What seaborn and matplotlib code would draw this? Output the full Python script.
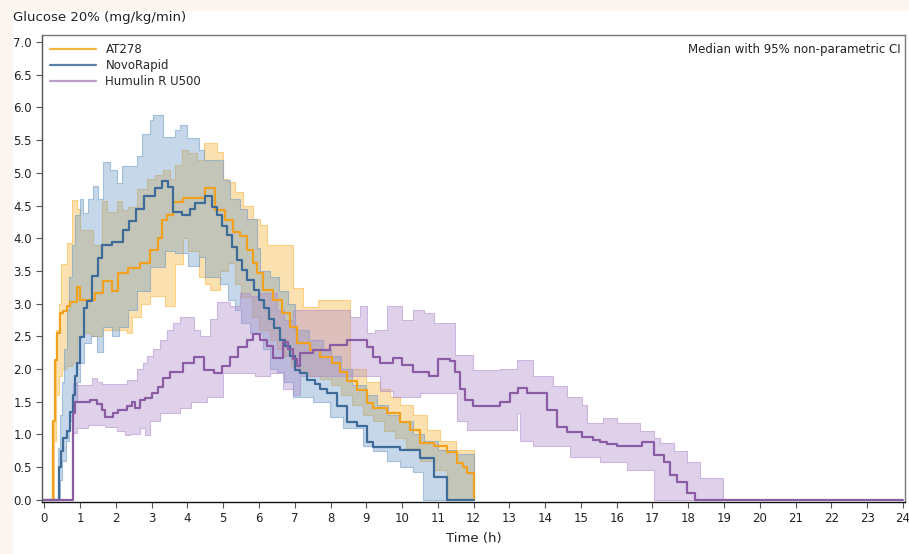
import numpy as np
import pandas as pd
import matplotlib
matplotlib.use("Agg")
import matplotlib.pyplot as plt
from matplotlib.lines import Line2D
from matplotlib.patches import Rectangle
import seaborn as sns

# ---- median glucose infusion rate (step functions, start of each step) ----
at_t = [0.00, 0.25, 0.30, 0.35, 0.44, 0.53, 0.63, 0.72, 0.91, 1.00, 1.42, 1.65, 1.88, 2.07, 2.35,
        2.68, 2.95, 3.19, 3.28, 3.42, 3.61, 3.89, 4.49, 4.77, 5.05, 5.28, 5.47, 5.66, 5.84, 5.94,
        6.10, 6.40, 6.65, 6.87, 7.06, 7.43, 7.71, 8.03, 8.27, 8.45, 8.73, 9.01, 9.20, 9.57, 9.94,
        10.22, 10.50, 10.88, 11.25, 11.53, 11.71, 11.81, 12.01]
at_med = [0.00, 1.20, 2.14, 2.55, 2.86, 2.88, 2.97, 3.03, 3.26, 3.06, 3.16, 3.34, 3.20, 3.47, 3.55,
          3.62, 3.82, 4.00, 4.28, 4.36, 4.55, 4.61, 4.77, 4.43, 4.28, 4.10, 4.03, 3.82, 3.62, 3.47,
          3.21, 3.06, 2.86, 2.65, 2.40, 2.29, 2.19, 2.09, 1.96, 1.81, 1.68, 1.48, 1.41, 1.33, 1.19,
          1.07, 0.87, 0.82, 0.73, 0.56, 0.50, 0.41, 0.00]

nr_t = [0.00, 0.40, 0.46, 0.53, 0.63, 0.72, 0.80, 0.86, 0.91, 1.00, 1.10, 1.19, 1.32, 1.51, 1.60,
        1.88, 2.20, 2.38, 2.57, 2.80, 3.10, 3.28, 3.47, 3.60, 3.84, 4.07, 4.21, 4.49, 4.68, 4.82,
        4.96, 5.10, 5.24, 5.38, 5.52, 5.66, 5.85, 5.99, 6.13, 6.27, 6.41, 6.60, 6.73, 6.87, 7.01,
        7.15, 7.34, 7.57, 7.71, 7.90, 8.17, 8.45, 8.73, 9.01, 9.20, 9.94, 10.50, 10.88, 11.25, 12.00]
nr_med = [0.00, 0.50, 0.75, 0.95, 1.05, 1.35, 1.60, 1.90, 2.10, 2.49, 2.93, 3.04, 3.42, 3.70, 3.90,
          3.95, 4.13, 4.26, 4.45, 4.65, 4.77, 4.87, 4.79, 4.40, 4.36, 4.45, 4.54, 4.64, 4.48, 4.36,
          4.18, 4.05, 3.86, 3.67, 3.52, 3.36, 3.21, 3.06, 2.93, 2.77, 2.63, 2.45, 2.35, 2.20, 1.99,
          1.94, 1.84, 1.77, 1.69, 1.64, 1.44, 1.19, 1.13, 0.88, 0.81, 0.76, 0.64, 0.35, 0.00, 0.00]

hu_t = [0.00, 0.79, 0.86, 1.28, 1.46, 1.60, 1.69, 1.93, 2.07, 2.30, 2.44, 2.54, 2.68, 2.82, 3.00,
        3.19, 3.33, 3.51, 3.89, 4.17, 4.45, 4.73, 4.96, 5.19, 5.42, 5.66, 5.84, 6.03, 6.22, 6.40,
        6.68, 6.82, 6.95, 7.06, 7.15, 7.52, 7.99, 8.45, 9.01, 9.20, 9.38, 9.76, 9.99, 10.32, 10.74,
        11.01, 11.34, 11.48, 11.62, 11.76, 11.99, 12.74, 13.02, 13.25, 13.49, 14.05, 14.32, 14.60,
        15.02, 15.35, 15.53, 15.72, 16.00, 16.37, 16.70, 17.03, 17.31, 17.49, 17.68, 17.96, 18.19, 24.00]
hu_med = [0.00, 1.33, 1.50, 1.53, 1.47, 1.38, 1.27, 1.33, 1.38, 1.43, 1.50, 1.40, 1.53, 1.55, 1.63,
          1.73, 1.86, 1.95, 2.10, 2.19, 1.99, 1.94, 2.04, 2.19, 2.34, 2.45, 2.53, 2.45, 2.35, 2.17,
          2.42, 2.30, 2.15, 2.04, 2.24, 2.29, 2.37, 2.45, 2.34, 2.19, 2.09, 2.17, 2.06, 1.96, 1.89,
          2.16, 2.12, 1.96, 1.70, 1.53, 1.43, 1.50, 1.63, 1.71, 1.63, 1.38, 1.12, 1.04,
          0.96, 0.92, 0.88, 0.85, 0.83, 0.82, 0.88, 0.69, 0.58, 0.38, 0.28, 0.10, 0.00, 0.00]

# ---- 95% CI bands: upper / lower step functions ----
at_hi_t = [0.22, 0.27, 0.32, 0.40, 0.46, 0.63, 0.76, 0.91, 1.00, 1.37, 1.60, 1.74, 2.02, 2.16, 2.35,
           2.58, 2.86, 3.09, 3.33, 3.51, 3.65, 3.84, 4.03, 4.26, 4.45, 4.82, 5.00, 5.14, 5.33, 5.56,
           5.84, 6.03, 6.22, 6.96, 7.24, 7.66, 8.55, 9.00, 9.38, 9.66, 9.94, 10.32, 10.69, 11.06,
           11.52, 12.00]
at_hi = [0.5, 1.5, 2.6, 3.0, 3.6, 3.93, 4.59, 4.45, 4.13, 3.9, 4.57, 4.4, 4.57, 4.43, 4.48,
         4.75, 4.9, 4.97, 5.05, 4.9, 5.12, 5.35, 5.3, 5.2, 5.45, 5.32, 4.9, 4.86, 4.7, 4.5,
         4.3, 4.2, 3.9, 3.24, 2.95, 3.05, 2.0, 1.8, 1.7, 1.58, 1.45, 1.3, 1.07, 0.9,
         0.76, 0.0]
at_lo_t = [0.22, 0.28, 0.32, 0.40, 0.50, 0.60, 0.76, 0.91, 1.10, 1.30, 1.60, 1.90, 2.30, 2.45, 2.70,
           2.95, 3.37, 3.65, 3.89, 4.03, 4.31, 4.49, 4.63, 4.91, 5.14, 5.33, 5.50, 5.80, 6.00, 6.30,
           6.50, 6.70, 6.90, 7.10, 7.40, 7.70, 8.00, 8.30, 8.60, 8.90, 9.20, 9.50, 9.80, 10.10, 10.50,
           10.90, 11.25, 12.00]
at_lo = [0.0, 0.9, 1.6, 1.9, 2.0, 2.05, 2.1, 2.5, 2.55, 2.5, 2.6, 2.6, 2.55, 2.8, 3.0,
         3.11, 2.96, 3.6, 4.0, 3.8, 3.41, 3.3, 3.21, 3.5, 3.62, 3.3, 3.1, 2.8, 2.6, 2.45,
         2.3, 2.2, 2.05, 1.95, 1.9, 1.85, 1.75, 1.6, 1.45, 1.3, 1.2, 1.05, 0.95, 0.8, 0.6,
         0.46, 0.0, 0.0]

nr_hi_t = [0.38, 0.45, 0.50, 0.55, 0.62, 0.70, 0.78, 0.86, 1.00, 1.09, 1.23, 1.37, 1.51, 1.65, 1.84,
           2.02, 2.16, 2.58, 2.72, 2.95, 3.05, 3.33, 3.65, 3.79, 3.98, 4.31, 4.45, 5.00, 5.19, 5.47,
           5.66, 5.94, 6.03, 6.31, 6.55, 6.80, 7.00, 7.40, 7.80, 8.00, 8.30, 8.60, 9.00, 9.30, 9.60,
           9.94, 10.30, 10.60, 11.00, 11.50, 12.00]
nr_hi = [0.8, 1.3, 1.8, 2.3, 2.9, 3.4, 3.9, 4.35, 4.6, 4.38, 4.6, 4.8, 4.6, 5.17, 5.05,
         4.85, 5.1, 5.25, 5.6, 5.8, 5.89, 5.55, 5.65, 5.73, 5.53, 5.35, 5.2, 4.89, 4.6, 4.45,
         4.3, 3.85, 3.5, 3.4, 3.2, 3.0, 2.6, 2.45, 2.3, 2.2, 2.0, 1.75, 1.6, 1.45, 1.3,
         1.2, 1.0, 0.9, 0.76, 0.7, 0.0]
nr_lo_t = [0.38, 0.45, 0.50, 0.60, 0.70, 0.80, 0.90, 1.00, 1.10, 1.30, 1.46, 1.65, 1.88, 2.10, 2.35,
           2.60, 2.95, 3.37, 3.65, 4.03, 4.31, 4.49, 4.90, 5.14, 5.33, 5.50, 5.75, 6.10, 6.30, 6.50,
           6.70, 6.96, 7.52, 7.99, 8.36, 8.92, 9.20, 9.57, 9.94, 10.31, 10.59, 12.00]
nr_lo = [0.0, 0.3, 0.6, 0.9, 1.2, 1.5, 1.8, 2.1, 2.4, 2.5, 2.26, 2.65, 2.5, 2.65, 2.9,
         3.2, 3.56, 3.8, 3.78, 3.57, 3.72, 3.4, 3.3, 3.06, 2.9, 2.7, 2.55, 2.3, 2.0, 1.95,
         1.8, 1.58, 1.5, 1.27, 1.1, 0.82, 0.75, 0.59, 0.5, 0.42, 0.0, 0.0]

hu_hi_t = [0.76, 0.80, 0.90, 1.32, 1.46, 1.60, 2.30, 2.58, 2.75, 2.86, 3.05, 3.23, 3.42, 3.60, 3.79,
           4.17, 4.35, 4.63, 4.82, 5.19, 5.47, 5.75, 6.03, 6.50, 6.70, 6.96, 8.55, 8.82, 9.01, 9.24,
           9.57, 9.99, 10.32, 10.60, 10.88, 11.48, 11.99, 12.74, 13.21, 13.67, 14.23, 14.60, 15.02,
           15.16, 15.63, 16.00, 16.65, 17.03, 17.21, 17.59, 17.96, 18.33, 18.98]
hu_hi = [1.2, 1.79, 1.75, 1.86, 1.8, 1.77, 1.83, 2.0, 2.1, 2.2, 2.3, 2.45, 2.6, 2.7, 2.8,
         2.6, 2.5, 2.77, 3.03, 2.97, 3.16, 3.12, 3.16, 2.9, 2.75, 2.9, 2.8, 2.96, 2.55, 2.6,
         2.96, 2.75, 2.9, 2.85, 2.7, 2.22, 1.99, 2.0, 2.14, 1.89, 1.74, 1.58, 1.45,
         1.17, 1.25, 1.17, 1.05, 0.95, 0.87, 0.74, 0.58, 0.33, 0.0]
hu_lo_t = [0.76, 0.81, 0.90, 1.23, 1.69, 2.02, 2.26, 2.40, 2.68, 2.82, 2.96, 3.23, 3.79, 4.10, 4.54,
           5.00, 5.90, 6.31, 6.68, 6.96, 7.15, 8.50, 9.38, 9.76, 10.50, 11.53, 11.81, 13.21, 13.30,
           13.67, 14.70, 15.53, 16.28, 17.03, 18.98]
hu_lo = [0.0, 1.02, 1.1, 1.14, 1.12, 1.05, 0.99, 1.01, 1.1, 0.99, 1.2, 1.33, 1.4, 1.5, 1.58,
         1.94, 1.9, 1.94, 1.7, 1.6, 1.9, 1.9, 1.66, 1.58, 1.63, 1.2, 1.07, 1.33, 0.9,
         0.82, 0.66, 0.58, 0.46, 0.0, 0.0]

products = ["AT278", "NovoRapid", "Humulin R U500"]
line_colors = {"AT278": "#f0a21e", "NovoRapid": "#3e6b98", "Humulin R U500": "#8a5ca3"}
fill_colors = {"AT278": "#f9b43a", "NovoRapid": "#6f9bc8", "Humulin R U500": "#b08ccc"}
legend_colors = {"AT278": "#f3b440", "NovoRapid": "#5a80aa", "Humulin R U500": "#bb9dcc"}


def step_values(grid, t, v):
    # value of a post-step function at each grid time
    idx = np.searchsorted(t, grid, side="right") - 1
    return np.asarray(v)[np.clip(idx, 0, None)]


sns.set_theme(style="white")
plt.rcParams["font.family"] = ["DejaVu Sans"]

fig = plt.figure(figsize=(9.09, 5.54), dpi=100, facecolor="white")
cream = "#fbf6ef"
fig.patches.append(Rectangle((0, 1 - 10 / 554), 1, 10 / 554, transform=fig.transFigure,
                             color=cream, zorder=-5))
fig.patches.append(Rectangle((0, 0), 12 / 909, 1, transform=fig.transFigure,
                             color=cream, zorder=-5))
ax = fig.add_axes([0.0459, 0.093, 0.9497, 0.8438])
ax.set_facecolor("white")

bands = {
    "AT278": (at_hi_t, at_hi, at_lo_t, at_lo),
    "NovoRapid": (nr_hi_t, nr_hi, nr_lo_t, nr_lo),
    "Humulin R U500": (hu_hi_t, hu_hi, hu_lo_t, hu_lo),
}
for name in products:
    hi_t, hi, lo_t, lo = bands[name]
    grid = np.union1d(hi_t, lo_t)
    upper = step_values(grid, hi_t, hi)
    lower = step_values(grid, lo_t, lo)
    c = matplotlib.colors.to_rgb(fill_colors[name])
    ax.fill_between(grid, lower, upper, step="post", facecolor=c + (0.40,),
                    edgecolor=c + (0.55,), linewidth=0.8, zorder=1)

med = pd.concat([
    pd.DataFrame({"time": at_t, "rate": at_med, "product": "AT278"}),
    pd.DataFrame({"time": nr_t, "rate": nr_med, "product": "NovoRapid"}),
    pd.DataFrame({"time": hu_t, "rate": hu_med, "product": "Humulin R U500"}),
])
sns.lineplot(data=med, x="time", y="rate", hue="product", hue_order=products,
             palette=line_colors, estimator=None, drawstyle="steps-post",
             linewidth=1.6, legend=False, ax=ax, zorder=3)

ax.set_xlim(-0.073, 24.06)
ax.set_ylim(-0.04, 7.107)
ax.set_xticks(range(0, 25))
ax.set_yticks(np.arange(0, 7.01, 0.5))
ax.set_yticklabels([f"{v:.1f}" for v in np.arange(0, 7.01, 0.5)])
ax.tick_params(axis="both", direction="out", length=4, width=0.8, color="#555555",
               labelsize=8.5, labelcolor="#222222", pad=3, bottom=True, left=True)
for side, col in [("left", "#555555"), ("top", "#777777"), ("right", "#777777"), ("bottom", "#111111")]:
    ax.spines[side].set_color(col)
    ax.spines[side].set_linewidth(1.0)
ax.set_xlabel("Time (h)", fontsize=9.5, color="#222222", labelpad=5)
ax.set_ylabel("")

handles = [Line2D([0], [0], color=legend_colors[p], lw=1.6) for p in products]
ax.legend(handles, products, loc="upper left", bbox_to_anchor=(0.0, 1.0), frameon=False,
          fontsize=8.5, handlelength=3.9, handletextpad=0.8, labelspacing=0.25,
          borderaxespad=0.3)
ax.text(0.9945, 0.968, "Median with 95% non-parametric CI", transform=ax.transAxes,
        ha="right", va="center", fontsize=8.5, color="#222222")
fig.text(13 / 909, 1 - 17 / 554, "Glucose 20% (mg/kg/min)", ha="left", va="center",
         fontsize=9.5, color="#222222")

fig.savefig("out.png", dpi=100)
